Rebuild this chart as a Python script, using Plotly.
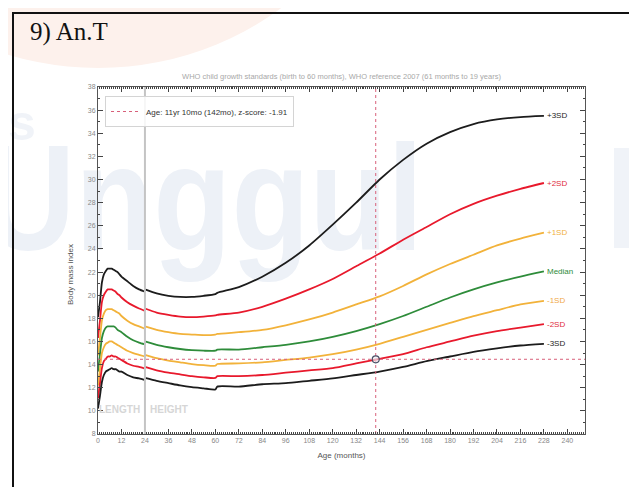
import base64
import plotly.graph_objects as go

# WHO BMI-for-age (boys)
# None marks the break between length-based (0-24) and height-based (24-60) curves
AGE = [0, 1, 2, 3, 4, 5, 6, 7, 8, 9, 10, 11, 12, 15, 18, 21, 24, None,
       24, 30, 36, 42, 48, 54, 60,
       61, 72, 84, 96, 108, 120, 132, 144, 156, 168, 180, 192, 204, 216, 228]
SD3N = [10.2, 11.3, 12.5, 13.1, 13.4, 13.5, 13.6, 13.7, 13.6, 13.6, 13.5, 13.4, 13.4, 13.1, 12.9, 12.8, 12.65, None,
        12.85, 12.6, 12.4, 12.2, 12.05, 11.95, 11.85,
        12.1, 12.1, 12.3, 12.4, 12.6, 12.8, 13.1, 13.4, 13.8, 14.3, 14.7, 15.1, 15.4, 15.65, 15.8]
SD2N = [11.1, 12.4, 13.7, 14.3, 14.5, 14.7, 14.7, 14.8, 14.7, 14.7, 14.6, 14.5, 14.4, 14.1, 13.9, 13.8, 13.65, None,
        13.8, 13.5, 13.3, 13.15, 13.0, 12.9, 12.85,
        13.0, 13.0, 13.1, 13.3, 13.5, 13.7, 14.1, 14.5, 14.9, 15.5, 16.0, 16.5, 16.9, 17.2, 17.5]
SD1N = [12.2, 13.6, 15.0, 15.5, 15.8, 15.9, 16.0, 16.0, 15.9, 15.8, 15.7, 15.6, 15.5, 15.2, 15.0, 14.85, 14.7, None,
        14.85, 14.55, 14.35, 14.2, 14.05, 13.95, 13.9,
        14.05, 14.1, 14.2, 14.4, 14.6, 14.9, 15.3, 15.8, 16.4, 17.0, 17.6, 18.2, 18.7, 19.2, 19.5]
MEDIAN = [13.4, 14.9, 16.3, 16.9, 17.2, 17.3, 17.3, 17.3, 17.3, 17.2, 17.0, 16.9, 16.8, 16.4, 16.1, 15.9, 15.75, None,
          16.0, 15.7, 15.5, 15.35, 15.25, 15.2, 15.2,
          15.3, 15.3, 15.5, 15.7, 16.0, 16.4, 16.9, 17.5, 18.2, 19.0, 19.8, 20.5, 21.1, 21.6, 22.05]
SD1 = [14.8, 16.3, 17.8, 18.4, 18.7, 18.8, 18.8, 18.8, 18.7, 18.6, 18.5, 18.4, 18.2, 17.8, 17.5, 17.3, 17.1, None,
       17.3, 17.0, 16.8, 16.65, 16.6, 16.55, 16.6,
       16.65, 16.8, 17.0, 17.4, 17.9, 18.5, 19.2, 19.9, 20.8, 21.8, 22.7, 23.5, 24.3, 24.9, 25.4]
SD2 = [16.3, 17.8, 19.4, 20.0, 20.3, 20.5, 20.5, 20.5, 20.4, 20.3, 20.1, 20.0, 19.8, 19.4, 19.1, 18.85, 18.65, None,
       18.85, 18.5, 18.3, 18.15, 18.1, 18.15, 18.25,
       18.3, 18.5, 19.0, 19.7, 20.5, 21.4, 22.5, 23.6, 24.8, 25.9, 27.0, 27.9, 28.6, 29.2, 29.7]
SD3 = [18.1, 19.4, 21.1, 21.8, 22.1, 22.3, 22.3, 22.3, 22.2, 22.1, 22.0, 21.8, 21.6, 21.2, 20.8, 20.5, 20.3, None,
       20.5, 20.15, 19.95, 19.85, 19.85, 19.95, 20.1,
       20.2, 20.7, 21.6, 22.8, 24.3, 26.1, 28.0, 30.0, 31.7, 33.1, 34.1, 34.8, 35.2, 35.4, 35.5]

LABELS = ["+3SD", "+2SD", "+1SD", "Median", "-1SD", "-2SD", "-3SD"]
CURVES = [SD3, SD2, SD1, MEDIAN, SD1N, SD2N, SD3N]

CHILD_AGE = 142      # months
CHILD_BMI = 14.46
LEGEND_TEXT = "Age: 11yr 10mo (142mo), z-score: -1.91"
SWITCH_AGE = 24      # length -> height
X_RANGE = [0, 249]
Y_RANGE = [8, 38]

BLACK = "#1c1c1c"
RED = "#e8192c"
ORANGE = "#f2b23a"
GREEN = "#2e8c3a"
line_colors = [BLACK, RED, ORANGE, GREEN, ORANGE, RED, BLACK]
label_colors = [BLACK, "#e02a3a", "#f0b040", GREEN, "#f0a848", "#e02a3a", BLACK]

W, H = 637, 487
L, R, T, B = 90, 60, 79, 61
PW, PH = W - L - R, H - T - B


def px_x(p):
    return (p - L) / PW


def px_y(p):
    return (H - B - p) / PH


# faint document watermark (page background)
svg = f"""<svg xmlns='http://www.w3.org/2000/svg' width='{W}' height='{H}' viewBox='0 0 {W} {H}'>
<circle cx='90' cy='-250' r='310' fill='#fdf1ec'/>
<text x='-25' y='242' font-family='Liberation Sans, Arial' font-weight='bold' font-size='150'
 fill='#edf1f7' textLength='440' lengthAdjust='spacingAndGlyphs'>Unggul</text>
<text x='0' y='132' font-family='Liberation Sans, Arial' font-weight='bold' font-size='50' fill='#f0f3f8'>s</text>
<rect x='606' y='140' width='31' height='100' fill='#f0f3f8'/>
</svg>"""
img_src = "data:image/svg+xml;base64," + base64.b64encode(svg.encode()).decode()

fig = go.Figure()

for vals, name, col in zip(CURVES, LABELS, line_colors):
    fig.add_trace(go.Scatter(
        x=AGE, y=vals, mode="lines", name=name, showlegend=False,
        line=dict(color=col, width=1.8, shape="spline", smoothing=0.6),
        connectgaps=False, hoverinfo="skip"
    ))

# crosshair through the child's measurement
fig.add_trace(go.Scatter(
    x=[CHILD_AGE, CHILD_AGE, None, X_RANGE[0], X_RANGE[1]],
    y=[Y_RANGE[0], Y_RANGE[1], None, CHILD_BMI, CHILD_BMI],
    mode="lines", name=LEGEND_TEXT, showlegend=True,
    line=dict(color="#d8607a", width=1, dash="dot")
))
fig.add_trace(go.Scatter(
    x=[CHILD_AGE], y=[CHILD_BMI], mode="markers", showlegend=False,
    marker=dict(symbol="circle", size=7, color="rgba(235,235,240,0.6)",
                line=dict(color="#4a4f66", width=1.2))
))

annotations = []
for vals, name, col in zip(CURVES, LABELS, label_colors):
    annotations.append(dict(
        x=AGE[-1], y=vals[-1], xref="x", yref="y", text=name, showarrow=False,
        xanchor="left", yanchor="middle", xshift=1,
        font=dict(family="Liberation Sans", size=8, color=col)
    ))

annotations += [
    dict(x=SWITCH_AGE, y=10.1, xref="x", yref="y", text="<b>LENGTH</b>", showarrow=False,
         xanchor="right", xshift=-3, font=dict(family="Liberation Sans", size=10, color="#d6d6d6")),
    dict(x=SWITCH_AGE, y=10.1, xref="x", yref="y", text="<b>HEIGHT</b>", showarrow=False,
         xanchor="left", xshift=3, font=dict(family="Liberation Sans", size=10, color="#d6d6d6")),
    dict(x=px_x(62), y=px_y(267), xref="paper", yref="paper", text="Body mass index",
         showarrow=False, textangle=-90, xanchor="center", yanchor="middle",
         font=dict(family="Liberation Sans", size=8, color="#555")),
    dict(x=px_x(20), y=px_y(24), xref="paper", yref="paper", text="9) An.T",
         showarrow=False, xanchor="left", yanchor="middle",
         font=dict(family="Liberation Serif", size=25, color="#111")),
]

shapes = [
    # length/height boundary
    dict(type="line", xref="x", yref="paper", x0=SWITCH_AGE, x1=SWITCH_AGE, y0=0, y1=1,
         line=dict(color="#c4c4c4", width=2), layer="above"),
    # table borders of the page
    dict(type="line", xref="paper", yref="paper", x0=px_x(4), x1=px_x(636), y0=px_y(5), y1=px_y(5),
         line=dict(color="#111", width=2)),
    dict(type="line", xref="paper", yref="paper", x0=px_x(5), x1=px_x(5), y0=px_y(4), y1=px_y(H + 2),
         line=dict(color="#111", width=2)),
    dict(type="line", xref="paper", yref="paper", x0=px_x(635), x1=px_x(635), y0=px_y(4), y1=px_y(H + 2),
         line=dict(color="#111", width=2)),
]

fig.update_layout(
    width=W, height=H,
    margin=dict(l=L, r=R, t=T, b=B),
    paper_bgcolor="white", plot_bgcolor="rgba(0,0,0,0)",
    font=dict(family="Liberation Sans", size=7, color="#777"),
    title=dict(text="WHO child growth standards (birth to 60 months), WHO reference 2007 (61 months to 19 years)",
               x=(L + PW / 2) / W, xanchor="center", y=1 - 68 / H, yanchor="middle", yref="container",
               font=dict(family="Liberation Sans", size=7.5, color="#a8a8a8")),
    xaxis=dict(range=X_RANGE, tickmode="linear", tick0=0, dtick=12,
               ticks="inside", ticklen=5, tickcolor="#444", showline=True, linecolor="#555",
               linewidth=1, mirror="ticks", showgrid=False, zeroline=False,
               minor=dict(dtick=1, ticklen=2, tickcolor="#444", ticks="inside", showgrid=False),
               tickfont=dict(size=7, color="#888"),
               title=dict(text="Age (months)", standoff=8, font=dict(size=8, color="#555"))),
    yaxis=dict(range=Y_RANGE, tickmode="linear", tick0=8, dtick=2,
               ticks="inside", ticklen=5, tickcolor="#444", showline=True, linecolor="#555",
               linewidth=1, mirror="ticks", showgrid=False, zeroline=False,
               minor=dict(dtick=1, ticklen=2, tickcolor="#444", ticks="inside", showgrid=False),
               tickfont=dict(size=7, color="#888")),
    legend=dict(x=px_x(97), y=px_y(88), xanchor="left", yanchor="top",
                bgcolor="rgba(255,255,255,0.85)", bordercolor="#d4d4d4", borderwidth=1,
                font=dict(family="Liberation Sans", size=8, color="#333")),
    annotations=annotations,
    shapes=shapes,
    images=[dict(source=img_src, xref="paper", yref="paper", x=px_x(0), y=px_y(0),
                 sizex=W / PW, sizey=H / PH, xanchor="left", yanchor="top",
                 sizing="stretch", layer="below")],
    hovermode=False,
)

fig.write_html("out.html")
